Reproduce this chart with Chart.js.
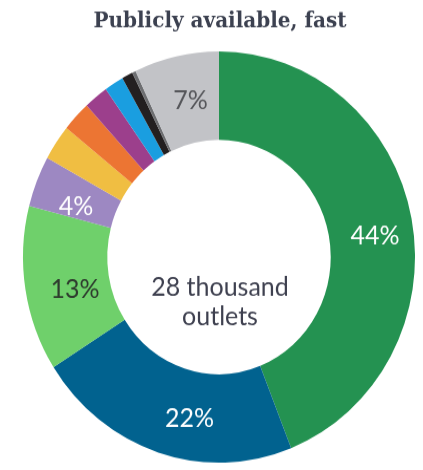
<!DOCTYPE html>
<html lang="en">
<head>
    <meta charset="UTF-8">
    <title>Publicly available, fast</title>
    <script src="https://cdn.jsdelivr.net/npm/chart.js"></script>
    <style>
        html, body {
            margin: 0;
            padding: 0;
            background: white;
            height: 470px;
        }
        .chart-wrap {
            width: 423px;
            height: 448px;
            transform: scaleY(1.049);
            transform-origin: top left;
        }
    </style>
</head>
<body>
    <div class="chart-wrap">
        <canvas id="outletChart" width="423" height="448"></canvas>
    </div>

    <script>
        // Share of fast public charging outlets by operator, in percent
        const operators = ['Operator A', 'Operator B', 'Operator C', 'Operator D', 'Operator E',
                           'Operator F', 'Operator G', 'Operator H', 'Operator I', 'Operator J', 'Other'];
        const shares = [44, 22, 13, 4, 2.8, 2.4, 2, 1.6, 0.9, 0.3, 7];
        const sliceColors = ['#249251', '#01628f', '#6fd06b', '#9d88c2', '#f0be42', '#ec7533',
                             '#9c3f8c', '#1a9ee0', '#231f20', '#6d6e71', '#c2c3c7'];
        // only the bigger slices carry a label
        const labelText = ['44%', '22%', '13%', '4%', '', '', '', '', '', '', '7%'];
        const labelColors = ['#ffffff', '#ffffff', '#2e3b2e', '#ffffff', '', '', '', '', '', '', '#55565a'];

        const chartTitle = 'Publicly available, fast';
        const centerLines = ['28 thousand', 'outlets'];

        // nudges from the arc centroid so labels sit a little lower in the ring
        const labelNudge = {
            0: [5, 9], 1: [18, 8], 2: [8, 7], 3: [0, 9], 10: [5, 1]
        };

        const textPlugin = {
            id: 'textPlugin',
            afterDatasetsDraw(chart) {
                const ctx = chart.ctx;
                const arcs = chart.getDatasetMeta(0).data;
                ctx.save();
                ctx.textAlign = 'center';
                ctx.textBaseline = 'middle';

                ctx.font = '25px Lato';
                arcs.forEach((arc, i) => {
                    if (!labelText[i]) return;
                    const p = arc.tooltipPosition();
                    const n = labelNudge[i] || [0, 0];
                    ctx.fillStyle = labelColors[i];
                    ctx.fillText(labelText[i], p.x + n[0], p.y + n[1]);
                });

                const cx = arcs[0].x;
                const cy = arcs[0].y;
                ctx.fillStyle = '#3e404f';
                ctx.font = '25px Lato';
                ctx.fillText(centerLines[0], cx + 1, cy + 29);
                ctx.fillText(centerLines[1], cx + 1, cy + 57);

                ctx.font = 'bold 20px "DejaVu Serif"';
                ctx.fillStyle = '#3c4150';
                ctx.fillText(chartTitle, 220, 21);
                ctx.restore();
            }
        };

        new Chart(document.getElementById('outletChart'), {
            type: 'doughnut',
            data: {
                labels: operators,
                datasets: [{
                    data: shares,
                    backgroundColor: sliceColors,
                    borderWidth: 0
                }]
            },
            options: {
                responsive: false,
                animation: false,
                cutout: '57%',
                layout: {
                    padding: { top: 49, bottom: 7, left: 15, right: 0 }
                },
                plugins: {
                    legend: { display: false },
                    tooltip: { enabled: false }
                }
            },
            plugins: [textPlugin]
        });
    </script>
</body>
</html>
